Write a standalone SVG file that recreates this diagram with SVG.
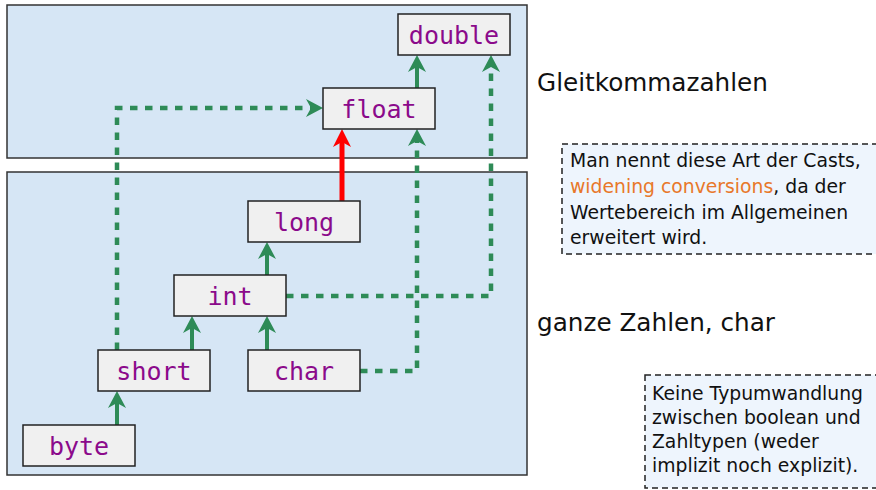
<svg xmlns="http://www.w3.org/2000/svg" width="876" height="490" viewBox="0 0 876 490">
<defs>
<style>
.panel{fill:#d6e6f5;stroke:#333;stroke-width:1.5}
.node rect{fill:#f0f0f0;stroke:#222;stroke-width:1.5}
.node text{font-family:"DejaVu Sans Mono",monospace;font-size:25px;fill:#8b0a8b;text-anchor:middle}
.lbl{font-family:"DejaVu Sans",sans-serif;font-size:24.7px;fill:#111}
.note rect{fill:#eef5fd;stroke:#222;stroke-width:1.5;stroke-dasharray:6 4}
.note text{font-family:"DejaVu Sans",sans-serif;font-size:18.8px;fill:#111}
.hl{fill:#e8782a}
.solid{fill:none;stroke:#2e8b57;stroke-width:4}
.dash{fill:none;stroke:#2e8b57;stroke-width:4.5;stroke-dasharray:7.5 7.5}
.red{fill:none;stroke:#ff0000;stroke-width:5}
</style>
<marker id="ag" markerUnits="userSpaceOnUse" markerWidth="40" markerHeight="40" refX="0" refY="0" viewBox="-20 -20 40 40" orient="auto" overflow="visible">
<path d="M10,0 L-7,-9 L-2,0 L-7,9 Z" fill="#2e8b57"/>
</marker>
<marker id="ar" markerUnits="userSpaceOnUse" markerWidth="40" markerHeight="40" refX="0" refY="0" viewBox="-20 -20 40 40" orient="auto" overflow="visible">
<path d="M11,0 L-7,-9 L-2,0 L-7,9 Z" fill="#ff0000"/>
</marker>
</defs>
<rect width="876" height="490" fill="#fff"/>
<g id="panels">
<rect class="panel" x="7" y="5" width="520" height="153"/>
<rect class="panel" x="7" y="172" width="520" height="303"/>
</g>
<g id="connectors">
<path class="solid" d="M117,425 V401" marker-end="url(#ag)"/>
<path class="solid" d="M192,350 V326" marker-end="url(#ag)"/>
<path class="solid" d="M267,350 V326" marker-end="url(#ag)"/>
<path class="solid" d="M267,275 V252" marker-end="url(#ag)"/>
<path class="solid" d="M417,88 V65" marker-end="url(#ag)"/>
<path class="red" d="M342,201 V140" marker-end="url(#ar)"/>
<path class="dash" d="M117,350 V108 H313" marker-end="url(#ag)"/>
<path class="dash" d="M360,371 H417 V139" marker-end="url(#ag)"/>
<path class="dash" d="M286,296 H491 V65" marker-end="url(#ag)"/>
</g>
<g id="double" class="node"><rect x="398" y="14" width="112" height="41"/><text x="454" y="44">double</text></g>
<g id="float" class="node"><rect x="323" y="88" width="112" height="41"/><text x="379" y="118">float</text></g>
<g id="long" class="node"><rect x="248" y="201" width="112" height="41"/><text x="304" y="231">long</text></g>
<g id="int" class="node"><rect x="174" y="275" width="112" height="41"/><text x="230" y="305">int</text></g>
<g id="short" class="node"><rect x="98" y="350" width="112" height="41"/><text x="154" y="380">short</text></g>
<g id="char" class="node"><rect x="248" y="350" width="112" height="41"/><text x="304" y="380">char</text></g>
<g id="byte" class="node"><rect x="23" y="425" width="112" height="41"/><text x="79" y="455">byte</text></g>
<g id="labels">
<text class="lbl" x="537" y="91">Gleitkommazahlen</text>
<text class="lbl" x="537" y="331">ganze Zahlen, char</text>
</g>
<g id="note1" class="note">
<rect x="562" y="144" width="330" height="110"/>
<text x="570" y="167">Man nennt diese Art der Casts,</text>
<text x="570" y="193"><tspan class="hl">widening conversions</tspan>, da der</text>
<text x="570" y="219">Wertebereich im Allgemeinen</text>
<text x="570" y="244">erweitert wird.</text>
</g>
<g id="note2" class="note">
<rect x="645" y="375" width="250" height="113"/>
<text x="652" y="400">Keine Typumwandlung</text>
<text x="652" y="424">zwischen boolean und</text>
<text x="652" y="448">Zahltypen (weder</text>
<text x="652" y="472">implizit noch explizit).</text>
</g>
</svg>
